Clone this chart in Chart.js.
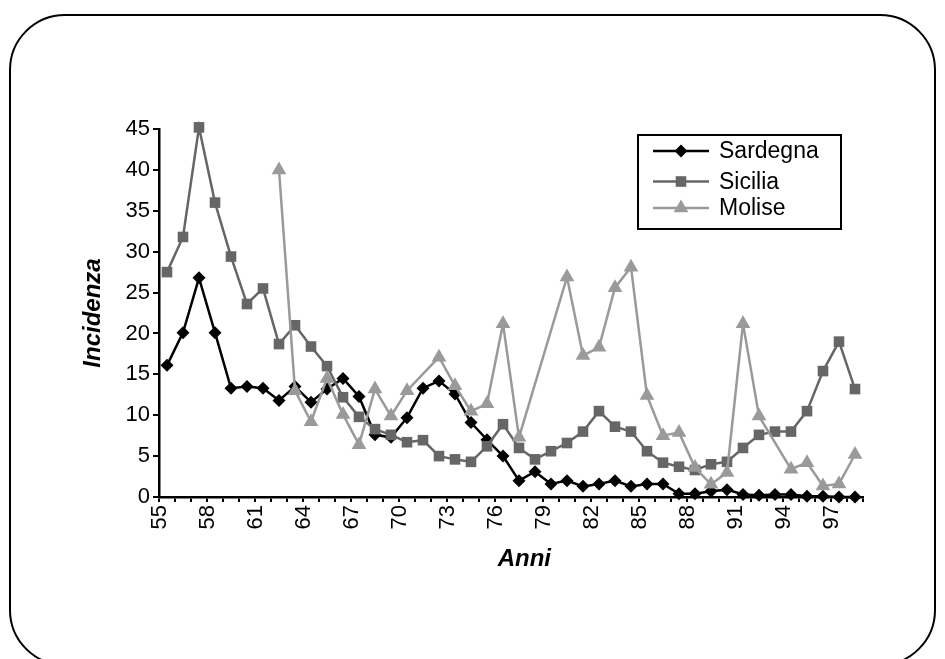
<!DOCTYPE html>
<html>
<head>
<meta charset="utf-8">
<script src="https://cdn.jsdelivr.net/npm/chart.js@4.4.1/dist/chart.umd.min.js"></script>
<style>
  html, body { margin: 0; padding: 0; background: #fff; overflow: hidden; width: 945px; height: 659px; }
  #wrap { position: relative; width: 945px; height: 659px; }
  #c { position: absolute; left: 0; top: 0; }
  #frame {
    position: absolute; left: 9px; top: 14px; width: 927px; height: 652px;
    border: 2.4px solid #000; border-radius: 56px; box-sizing: border-box; pointer-events: none;
  }
</style>
</head>
<body>
<div id="wrap">
  <canvas id="c" width="945" height="659"></canvas>
  <div id="frame"></div>
</div>
<script>
// Anni 1955-1998
const years = ['55','56','57','58','59','60','61','62','63','64','65','66','67','68','69',
               '70','71','72','73','74','75','76','77','78','79','80','81','82','83','84',
               '85','86','87','88','89','90','91','92','93','94','95','96','97','98'];

// Etichette mostrate sull'asse delle ascisse
const xTickLabels = ['55','58','61','64','67','70','73','76','79','82','85','88','91','94','97'];

// Incidenza per regione
const sardegna = [16.1, 20.1, 26.8, 20.1, 13.3, 13.5, 13.3, 11.8, 13.5, 11.6, 13.2, 14.5, 12.3, 7.6, 7.3,
                  9.7, 13.3, 14.2, 12.6, 9.1, 7.0, 5.0, 2.0, 3.1, 1.6, 2.0, 1.3, 1.6, 2.0, 1.3,
                  1.6, 1.6, 0.4, 0.4, 0.7, 0.9, 0.3, 0.2, 0.3, 0.3, 0.1, 0.1, 0, 0];

const sicilia = [27.5, 31.8, 45.2, 36.0, 29.4, 23.6, 25.5, 18.7, 21.0, 18.4, 16.0, 12.2, 9.8, 8.3, 7.6,
                 6.7, 6.95, 5.0, 4.6, 4.3, 6.2, 8.9, 6.0, 4.6, 5.6, 6.6, 8.0, 10.5, 8.6, 8.0,
                 5.6, 4.2, 3.7, 3.3, 4.0, 4.3, 6.0, 7.6, 8.0, 8.0, 10.5, 15.4, 19.0, 13.2];

const molise = [null, null, null, null, null, null, null, 40.0, 13.0, 9.2, 14.5, 10.1, 6.4, 13.2, 9.9,
                13.0, null, 17.1, 13.6, 10.5, 11.4, 21.2, 7.3, null, null, 26.9, 17.3, 18.3, 25.6, 28.1,
                12.4, 7.5, 7.9, 3.6, 1.55, 3.0, 21.2, 9.9, null, 3.4, 4.2, 1.35, 1.6, 5.2];

const yTicks = [0, 5, 10, 15, 20, 25, 30, 35, 40, 45];

const FONT = '"Liberation Sans", Arial, Helvetica, sans-serif';

function drawMarker(ctx, style, x, y, r, color) {
  ctx.fillStyle = color;
  ctx.beginPath();
  if (style === 'rectRot') {
    ctx.moveTo(x - r, y); ctx.lineTo(x, y - r); ctx.lineTo(x + r, y); ctx.lineTo(x, y + r);
  } else if (style === 'rect') {
    const s = Math.SQRT1_2 * r;
    ctx.rect(x - s, y - s, 2 * s, 2 * s);
  } else if (style === 'triangle') {
    for (let k = 0; k < 3; k++) {
      const a = k * 2 * Math.PI / 3;
      const px = x + Math.sin(a) * r, py = y - Math.cos(a) * r;
      if (k === 0) ctx.moveTo(px, py); else ctx.lineTo(px, py);
    }
  }
  ctx.closePath();
  ctx.fill();
}

// Legenda riquadrata disegnata dentro l'area del grafico
const boxLegend = {
  id: 'boxLegend',
  afterDraw(chart, args, opts) {
    const ctx = chart.ctx;
    ctx.save();
    ctx.lineWidth = 2;
    ctx.strokeStyle = '#000';
    ctx.strokeRect(opts.x, opts.y, opts.w, opts.h);
    chart.data.datasets.forEach((ds, i) => {
      const cy = opts.rows[i];
      ctx.strokeStyle = ds.borderColor;
      ctx.lineWidth = ds.borderWidth;
      ctx.beginPath();
      ctx.moveTo(opts.lineX0, cy);
      ctx.lineTo(opts.lineX1, cy);
      ctx.stroke();
      drawMarker(ctx, ds.pointStyle, (opts.lineX0 + opts.lineX1) / 2, cy, ds.pointRadius, ds.pointBackgroundColor);
      ctx.fillStyle = '#000';
      ctx.font = opts.font;
      ctx.textBaseline = 'middle';
      ctx.textAlign = 'left';
      ctx.fillText(ds.label, opts.textX, cy + 1);
    });
    ctx.restore();
  }
};

const tickFont = { family: FONT, size: 22 };
const titleFont = { family: FONT, size: 24, weight: 'bold', style: 'italic' };

new Chart(document.getElementById('c'), {
  type: 'line',
  data: {
    labels: years,
    datasets: [
      {
        label: 'Sardegna', data: sardegna, order: 3,
        borderColor: '#000000', borderWidth: 2.5, tension: 0,
        pointStyle: 'rectRot', pointRadius: 6.5, pointBackgroundColor: '#000000',
        pointBorderColor: '#000000', pointBorderWidth: 0, clip: false
      },
      {
        label: 'Sicilia', data: sicilia, order: 2,
        borderColor: '#666666', borderWidth: 2.5, tension: 0,
        pointStyle: 'rect', pointRadius: 7.5, pointBackgroundColor: '#666666',
        pointBorderColor: '#666666', pointBorderWidth: 0, clip: false
      },
      {
        label: 'Molise', data: molise, order: 1, spanGaps: true,
        borderColor: '#9a9a9a', borderWidth: 2.5, tension: 0,
        pointStyle: 'triangle', pointRadius: 8.5, pointBackgroundColor: '#9a9a9a',
        pointBorderColor: '#9a9a9a', pointBorderWidth: 0, clip: false
      }
    ]
  },
  options: {
    responsive: false,
    animation: false,
    events: [],
    layout: { padding: { left: 79, top: 129, right: 82, bottom: 85 } },
    plugins: {
      legend: { display: false },
      tooltip: { enabled: false },
      boxLegend: {
        x: 638, y: 135, w: 203, h: 94,
        rows: [151, 181.5, 208],
        lineX0: 653, lineX1: 709, textX: 719,
        font: '23px ' + FONT
      }
    },
    scales: {
      x: {
        type: 'category',
        offset: true,
        grid: { offset: true, drawOnChartArea: false, drawTicks: true, tickLength: 5, color: '#000', lineWidth: 2 },
        border: { display: true, color: '#000', width: 2.5 },
        ticks: {
          autoSkip: false, maxRotation: 90, minRotation: 90, padding: 3, labelOffset: -7,
          color: '#000', font: tickFont,
          callback: function (v) {
            const lab = this.getLabelForValue(v);
            return xTickLabels.includes(lab) ? lab : '';
          }
        },
        title: { display: true, text: '    Anni', color: '#000', font: titleFont, padding: { top: 0, bottom: 0 } },
        afterFit: (s) => { s.height = 77; }
      },
      y: {
        min: 0, max: 45,
        afterBuildTicks: (s) => { s.ticks = yTicks.map(v => ({ value: v })); },
        grid: { drawOnChartArea: false, drawTicks: true, tickLength: 6, color: '#000', lineWidth: 2 },
        border: { display: true, color: '#000', width: 2.5 },
        ticks: { padding: 3, color: '#000', font: tickFont },
        title: { display: true, text: 'Incidenza', color: '#000', font: titleFont, padding: { top: 0, bottom: 0 } },
        afterFit: (s) => { s.width = 80; }
      }
    }
  },
  plugins: [boxLegend]
});
</script>
</body>
</html>
